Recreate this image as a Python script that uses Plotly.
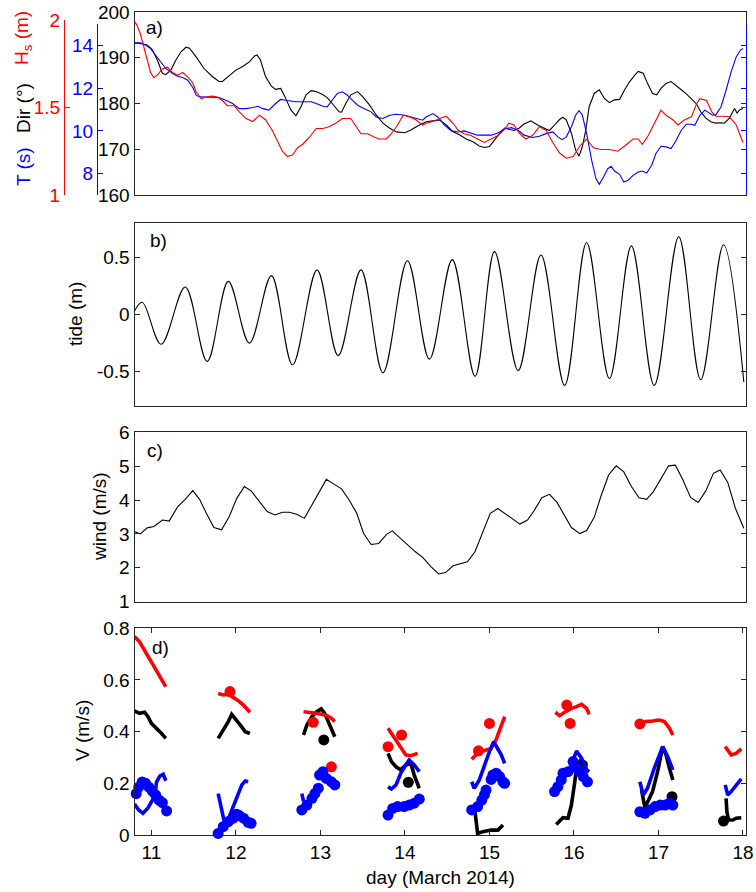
import plotly.graph_objects as go

# ---------------- panel a : wave direction, period, height ----------------
dir_day = [10.79, 10.85, 10.95, 11.01, 11.07, 11.13, 11.17, 11.23, 11.29, 11.35, 11.41, 11.45, 11.53, 11.62, 11.72, 11.80, 11.84, 11.92, 12.00, 12.08,
           12.16, 12.22, 12.25, 12.29, 12.35, 12.42, 12.47, 12.53, 12.58, 12.65, 12.71, 12.77, 12.83, 12.89, 12.95, 13.03, 13.08, 13.14, 13.22, 13.25,
           13.30, 13.36, 13.44, 13.50, 13.58, 13.66, 13.74, 13.82, 13.90, 14.00, 14.07, 14.15, 14.25, 14.33, 14.41, 14.49, 14.57, 14.65, 14.73, 14.80,
           14.88, 14.94, 15.00, 15.06, 15.12, 15.18, 15.23, 15.29, 15.35, 15.41, 15.49, 15.57, 15.65, 15.71, 15.77, 15.83, 15.87, 15.91, 15.97, 16.02,
           16.06, 16.10, 16.14, 16.18, 16.24, 16.30, 16.36, 16.42, 16.48, 16.54, 16.60, 16.66, 16.72, 16.76, 16.82, 16.87, 16.93, 16.98, 17.03, 17.09,
           17.15, 17.21, 17.27, 17.33, 17.39, 17.45, 17.50, 17.56, 17.62, 17.68, 17.74, 17.78, 17.84, 17.90, 17.93, 17.96, 18.00]
dir_deg = [193.3, 193.2, 192.8, 191.8, 189.5, 186.6, 186.3, 187.3, 189.5, 191.3, 192.3, 192.1, 190.2, 187.7, 185.9, 184.8, 184.8, 186.0, 187.3, 188.1,
           189.1, 190.4, 190.6, 189.5, 185.9, 183.8, 183.1, 183.3, 181.5, 178.6, 177.3, 179.3, 181.9, 182.8, 182.6, 181.9, 181.3, 180.0, 178.2, 178.1,
           180.0, 181.9, 182.6, 181.5, 179.7, 177.5, 175.7, 174.6, 173.8, 173.6, 174.2, 175.1, 176.0, 176.2, 176.4, 175.3, 173.8, 173.1, 172.2, 171.7,
           170.7, 170.4, 170.6, 172.0, 173.5, 174.6, 174.4, 174.1, 174.6, 175.5, 176.2, 175.3, 174.6, 174.1, 175.3, 176.5, 177.0, 176.4, 173.5, 169.8,
           168.5, 170.6, 174.2, 179.3, 182.2, 183.0, 181.1, 180.2, 180.8, 180.9, 183.0, 184.8, 186.2, 187.0, 186.6, 184.4, 182.2, 181.9, 183.3, 184.4,
           184.8, 184.0, 183.0, 182.1, 181.1, 179.9, 178.2, 176.8, 176.0, 175.7, 175.8, 175.7, 176.8, 178.9, 177.9, 178.6, 178.9]

per_day = [10.79, 10.87, 10.93, 10.99, 11.05, 11.11, 11.17, 11.25, 11.31, 11.37, 11.43, 11.49, 11.53, 11.57, 11.64, 11.72, 11.80, 11.88, 11.96, 12.04,
           12.12, 12.20, 12.26, 12.32, 12.39, 12.47, 12.53, 12.59, 12.71, 12.83, 12.89, 12.95, 13.03, 13.08, 13.14, 13.20, 13.26, 13.32, 13.38, 13.44,
           13.52, 13.60, 13.66, 13.74, 13.82, 13.90, 14.00, 14.07, 14.15, 14.21, 14.25, 14.33, 14.39, 14.47, 14.55, 14.63, 14.70, 14.78, 14.86, 14.94,
           15.02, 15.10, 15.18, 15.26, 15.34, 15.41, 15.51, 15.59, 15.67, 15.75, 15.81, 15.86, 15.91, 15.97, 16.02, 16.06, 16.10, 16.15, 16.21, 16.26,
           16.30, 16.35, 16.40, 16.44, 16.48, 16.54, 16.59, 16.64, 16.70, 16.76, 16.81, 16.86, 16.92, 16.97, 17.03, 17.09, 17.15, 17.21, 17.27, 17.33,
           17.39, 17.43, 17.49, 17.55, 17.61, 17.64, 17.68, 17.74, 17.80, 17.86, 17.92, 17.97, 18.00]
per_s = [14.09, 14.12, 14.01, 13.85, 13.54, 13.23, 12.92, 12.68, 12.56, 12.50, 12.37, 12.03, 11.67, 11.59, 11.59, 11.59, 11.56, 11.43, 11.28, 11.04,
         11.04, 11.09, 11.15, 11.04, 10.97, 11.28, 11.47, 11.43, 11.36, 11.36, 11.36, 11.28, 11.15, 11.12, 11.43, 11.75, 11.83, 11.67, 11.43, 11.20,
         11.04, 10.89, 10.65, 10.58, 10.73, 10.78, 10.73, 10.65, 10.58, 10.50, 10.65, 10.81, 10.65, 10.26, 10.00, 9.95, 10.00, 9.90, 9.80, 9.80,
         9.80, 9.90, 10.10, 10.15, 10.03, 9.80, 9.69, 9.75, 9.87, 9.95, 9.72, 9.59, 9.72, 10.19, 10.73, 10.94, 10.73, 9.87, 8.62, 7.77,
         7.50, 7.84, 8.23, 8.34, 8.12, 7.97, 7.61, 7.69, 7.92, 8.08, 8.12, 8.03, 8.39, 8.94, 9.28, 9.25, 9.17, 9.56, 10.03, 10.31,
         10.31, 10.26, 10.73, 10.97, 10.81, 10.73, 10.76, 11.12, 11.90, 12.76, 13.46, 13.78, 13.85]

hs_day = [10.79, 10.83, 10.87, 10.91, 10.95, 10.99, 11.03, 11.07, 11.13, 11.19, 11.25, 11.31, 11.37, 11.43, 11.49, 11.53, 11.59, 11.64, 11.72, 11.78,
          11.84, 11.90, 11.98, 12.04, 12.12, 12.20, 12.28, 12.35, 12.43, 12.49, 12.55, 12.61, 12.67, 12.73, 12.79, 12.87, 12.95, 13.03, 13.10, 13.18,
          13.26, 13.36, 13.42, 13.48, 13.56, 13.64, 13.70, 13.78, 13.84, 13.90, 13.98, 14.05, 14.13, 14.21, 14.25, 14.33, 14.41, 14.49, 14.57, 14.63,
          14.70, 14.78, 14.86, 14.94, 15.02, 15.10, 15.18, 15.23, 15.29, 15.35, 15.43, 15.51, 15.59, 15.67, 15.75, 15.83, 15.91, 15.99, 16.07, 16.15,
          16.23, 16.32, 16.42, 16.52, 16.60, 16.70, 16.76, 16.81, 16.88, 16.94, 17.00, 17.03, 17.09, 17.17, 17.23, 17.31, 17.39, 17.45, 17.49, 17.57,
          17.63, 17.68, 17.76, 17.84, 17.92, 18.00]
hs_m = [2.00, 1.97, 1.92, 1.85, 1.78, 1.70, 1.67, 1.685, 1.72, 1.73, 1.70, 1.685, 1.70, 1.675, 1.64, 1.59, 1.55, 1.56, 1.565, 1.56,
        1.54, 1.51, 1.51, 1.475, 1.437, 1.42, 1.456, 1.43, 1.37, 1.31, 1.25, 1.22, 1.23, 1.27, 1.29, 1.33, 1.38, 1.38, 1.39, 1.41,
        1.437, 1.437, 1.39, 1.35, 1.35, 1.33, 1.32, 1.32, 1.35, 1.39, 1.456, 1.447, 1.43, 1.40, 1.41, 1.42, 1.437, 1.45, 1.41, 1.37,
        1.35, 1.34, 1.32, 1.30, 1.32, 1.34, 1.375, 1.41, 1.40, 1.355, 1.32, 1.34, 1.39, 1.37, 1.30, 1.24, 1.21, 1.22, 1.28, 1.32,
        1.27, 1.26, 1.26, 1.25, 1.28, 1.32, 1.32, 1.29, 1.34, 1.40, 1.456, 1.485, 1.456, 1.43, 1.40, 1.43, 1.447, 1.52, 1.55, 1.54,
        1.475, 1.45, 1.45, 1.447, 1.40, 1.30]

# ---------------- panel b : tide (high / low water readings) ----------------
tide_day = [10.78, 10.89, 11.115, 11.40, 11.66, 11.91, 12.16, 12.42, 12.67, 12.96, 13.21, 13.48, 13.74, 14.03, 14.29,
            14.56, 14.83, 15.06, 15.34, 15.61, 15.89, 16.15, 16.42, 16.68, 16.95, 17.24, 17.50, 17.77, 18.01]
tide_m = [0.0, 0.107, -0.26, 0.24, -0.41, 0.29, -0.25, 0.34, -0.44, 0.39, -0.36, 0.39, -0.51, 0.47, -0.39,
          0.48, -0.54, 0.55, -0.49, 0.52, -0.62, 0.63, -0.56, 0.60, -0.62, 0.68, -0.57, 0.61, -0.59]

# ---------------- panel c : wind ----------------
wind_day = [10.77, 10.87, 10.95, 11.03, 11.13, 11.21, 11.31, 11.40, 11.49, 11.57, 11.65, 11.74, 11.83, 11.92, 12.01, 12.10, 12.18, 12.28, 12.37, 12.46,
            12.55, 12.63, 12.72, 12.81, 12.90, 12.99, 13.07, 13.16, 13.25, 13.34, 13.43, 13.51, 13.60, 13.69, 13.78, 13.85, 13.94, 14.04, 14.12, 14.21,
            14.31, 14.40, 14.48, 14.57, 14.65, 14.74, 14.83, 14.92, 15.01, 15.10, 15.19, 15.28, 15.36, 15.45, 15.53, 15.62, 15.71, 15.80, 15.89, 15.97,
            16.07, 16.15, 16.24, 16.32, 16.41, 16.50, 16.59, 16.68, 16.77, 16.86, 16.94, 17.03, 17.12, 17.20, 17.29, 17.38, 17.47, 17.56, 17.65, 17.73,
            17.82, 17.91, 18.01]
wind_ms = [3.10, 3.00, 3.18, 3.22, 3.41, 3.38, 3.80, 4.02, 4.28, 4.02, 3.61, 3.19, 3.12, 3.51, 4.05, 4.40, 4.27, 3.95, 3.66, 3.56,
           3.64, 3.64, 3.58, 3.46, 3.85, 4.25, 4.61, 4.47, 4.33, 4.00, 3.61, 3.02, 2.69, 2.72, 2.98, 3.09, 2.89, 2.64, 2.48, 2.31,
           2.03, 1.82, 1.86, 2.06, 2.11, 2.18, 2.48, 3.07, 3.61, 3.75, 3.59, 3.41, 3.29, 3.41, 3.69, 4.07, 4.17, 3.93, 3.56, 3.19,
           3.01, 3.10, 3.49, 4.12, 4.74, 5.01, 4.83, 4.40, 4.07, 4.02, 4.25, 4.64, 5.01, 5.03, 4.59, 4.08, 3.93, 4.27, 4.79, 4.89,
           4.52, 3.76, 3.17]

# ---------------- panel d : velocities (None separates the daily bursts) ----------------
red_line_day = [10.80, 10.86, 10.94, 11.02, 11.10, 11.17, None,
                11.79, 11.85, 11.91, 11.96, 12.02, 12.09, 12.165, None,
                12.80, 12.88, 12.955, 13.01, 13.07, 13.13, 13.17, None,
                13.80, 13.855, 13.91, 13.97, 14.01, 14.07, 14.15, None,
                14.79, 14.84, 14.90, 15.02, 15.08, 15.18, None,
                15.78, 15.83, 15.89, 15.97, 16.03, 16.09, 16.15, 16.18, None,
                16.78, 16.85, 16.93, 17.01, 17.07, 17.13, 17.17, None,
                17.79, 17.83, 17.86, 17.92, 17.98]
red_line_v = [0.768, 0.748, 0.703, 0.658, 0.613, 0.574, None,
              0.548, 0.542, 0.545, 0.535, 0.522, 0.503, 0.475, None,
              0.477, 0.475, 0.471, 0.467, 0.464, 0.452, 0.439, None,
              0.413, 0.387, 0.355, 0.329, 0.310, 0.307, 0.316, None,
              0.293, 0.310, 0.323, 0.335, 0.370, 0.458, None,
              0.475, 0.462, 0.475, 0.490, 0.497, 0.506, 0.490, 0.467, None,
              0.430, 0.439, 0.441, 0.445, 0.439, 0.413, 0.387, None,
              0.342, 0.323, 0.310, 0.316, 0.333]

black_line_day = [10.80, 10.86, 10.92, 10.96, 11.00, 11.04, 11.08, 11.12, 11.17, None,
                  11.79, 11.85, 11.91, 11.95, 11.99, 12.05, 12.11, 12.165, None,
                  12.80, 12.84, 12.90, 12.955, 13.01, 13.05, 13.11, 13.17, None,
                  13.80, 13.84, 13.895, 13.95, 14.01, 14.07, 14.11, 14.17, None,
                  14.82, 14.84, 14.86, 14.92, 15.02, 15.10, 15.16, None,
                  15.79, 15.83, 15.87, 15.93, 15.97, 16.01, 16.03, 16.07, 16.11, 16.15, 16.18, None,
                  16.80, 16.84, 16.93, 16.99, 17.05, 17.09, 17.13, 17.17, None,
                  17.80, 17.81, 17.83, 17.88, 17.92, 17.98]
black_line_v = [0.480, 0.471, 0.475, 0.458, 0.432, 0.419, 0.410, 0.393, 0.374, None,
                0.374, 0.406, 0.439, 0.467, 0.452, 0.426, 0.400, 0.393, None,
                0.387, 0.426, 0.458, 0.477, 0.488, 0.471, 0.426, 0.380, None,
                0.316, 0.284, 0.264, 0.252, 0.271, 0.277, 0.232, 0.181, None,
                0.116, 0.065, 0.006, 0.013, 0.019, 0.019, 0.039, None,
                0.041, 0.052, 0.067, 0.065, 0.116, 0.206, 0.258, 0.284, 0.271, 0.252, 0.245, None,
                0.174, 0.106, 0.168, 0.245, 0.342, 0.310, 0.258, 0.213, None,
                0.142, 0.090, 0.058, 0.058, 0.065, 0.067]

blue_line_day = [10.80, 10.85, 10.90, 10.96, 11.02, 11.05, 11.06, 11.10, 11.14, 11.17, None,
                 11.79, 11.83, 11.87, 11.92, 11.97, 12.03, 12.07, 12.11, 12.145, None,
                 12.78, 12.80, None,
                 13.80, 13.84, 13.895, 13.95, 14.01, 14.05, 14.11, 14.17, None,
                 14.79, 14.82, 14.88, 14.94, 15.00, 15.05, 15.10, 15.14, 15.18, None,
                 15.81, 15.89, 15.97, 16.03, 16.09, 16.16, None,
                 16.78, 16.82, 16.87, 16.95, 17.05, 17.11, 17.17, None,
                 17.79, 17.82, 17.86, 17.92, 17.98]
blue_line_v = [0.120, 0.097, 0.084, 0.105, 0.140, 0.175, 0.205, 0.228, 0.235, 0.210, None,
               0.160, 0.100, 0.040, 0.070, 0.116, 0.161, 0.194, 0.209, 0.206, None,
               0.160, 0.130, None,
               0.187, 0.178, 0.194, 0.239, 0.271, 0.290, 0.271, 0.245, None,
               0.206, 0.181, 0.213, 0.271, 0.323, 0.361, 0.335, 0.310, 0.277, None,
               0.213, 0.226, 0.271, 0.325, 0.297, 0.245, None,
               0.206, 0.155, 0.181, 0.258, 0.342, 0.303, 0.252, None,
               0.194, 0.155, 0.168, 0.194, 0.217]

red_dot_day = [11.93, 12.915, 13.13, 13.80, 13.96, 14.87, 15.00, 15.915, 15.955, 16.78]
red_dot_v = [0.555, 0.436, 0.264, 0.342, 0.387, 0.326, 0.432, 0.503, 0.432, 0.430]

black_dot_day = [13.04, 14.04, 16.10, 17.16, 17.77]
black_dot_v = [0.368, 0.204, 0.271, 0.148, 0.054]

blue_dot_day = [10.78, 10.82, 10.85, 10.89, 10.93, 10.97, 11.01, 11.05, 11.09, 11.13, 11.18,
                11.79, 11.85, 11.91, 11.97, 12.01, 12.04, 12.09, 12.145, 12.18,
                12.78, 12.84, 12.90, 12.935, 12.975, 12.99, 13.03, 13.07, 13.13, 13.17,
                13.80, 13.855, 13.914, 13.99, 14.05, 14.11, 14.17,
                14.79, 14.86, 14.91, 14.94, 14.96, 15.02, 15.04, 15.08, 15.12, 15.16, 15.18,
                15.77, 15.81, 15.85, 15.87, 15.93, 15.99, 16.03, 16.07, 16.11, 16.16,
                16.78, 16.84, 16.90, 16.96, 17.02, 17.08, 17.13, 17.17]
blue_dot_v = [0.135, 0.160, 0.185, 0.205, 0.200, 0.185, 0.170, 0.155, 0.135, 0.125, 0.093,
              0.006, 0.032, 0.052, 0.065, 0.080, 0.075, 0.065, 0.049, 0.045,
              0.097, 0.116, 0.142, 0.161, 0.181, 0.232, 0.245, 0.219, 0.206, 0.194,
              0.077, 0.103, 0.110, 0.110, 0.116, 0.123, 0.139,
              0.097, 0.110, 0.135, 0.155, 0.174, 0.215, 0.232, 0.239, 0.226, 0.206, 0.200,
              0.168, 0.187, 0.213, 0.239, 0.245, 0.284, 0.260, 0.245, 0.226, 0.206,
              0.090, 0.084, 0.097, 0.110, 0.116, 0.116, 0.123, 0.116]

day_ticks = [11, 12, 13, 14, 15, 16, 17, 18]

for a, b in [(dir_day, dir_deg), (per_day, per_s), (hs_day, hs_m), (tide_day, tide_m), (wind_day, wind_ms),
             (red_line_day, red_line_v), (black_line_day, black_line_v), (blue_line_day, blue_line_v),
             (red_dot_day, red_dot_v), (black_dot_day, black_dot_v), (blue_dot_day, blue_dot_v)]:
    assert len(a) == len(b), (len(a), len(b))

# ---------------- figure ----------------
W, H = 756, 892
FONT = "Liberation Sans, Arial, Helvetica, sans-serif"
RED, BLUE, BLACK = "#ff0000", "#0000ff", "#000000"
FRAME = "#262626"


def fx(p):
    return p / W


def fy(p):
    return 1 - p / H


XD = [fx(134.5), fx(745.5)]
XR = [10.8, 18.03]
TF = dict(family=FONT, size=19, color=BLACK)
A_BOT = fy(195)

fig = go.Figure()

# panel a  (transparent copies only give the right-hand blue/red axes a subplot)
fig.add_trace(go.Scatter(x=per_day, y=per_s, xaxis="x", yaxis="y7", mode="lines",
                         line=dict(color="rgba(0,0,0,0)", width=0.1), hoverinfo="skip"))
fig.add_trace(go.Scatter(x=hs_day, y=hs_m, xaxis="x", yaxis="y8", mode="lines",
                         line=dict(color="rgba(0,0,0,0)", width=0.1), hoverinfo="skip"))
fig.add_trace(go.Scatter(x=per_day, y=per_s, xaxis="x", yaxis="y2", mode="lines", line=dict(color=BLUE, width=1.1)))
fig.add_trace(go.Scatter(x=hs_day, y=hs_m, xaxis="x", yaxis="y3", mode="lines", line=dict(color=RED, width=1.1)))
fig.add_trace(go.Scatter(x=dir_day, y=dir_deg, xaxis="x", yaxis="y", mode="lines", line=dict(color=BLACK, width=1.1)))
# panel b
fig.add_trace(go.Scatter(x=tide_day, y=tide_m, xaxis="x2", yaxis="y4", mode="lines",
                         line=dict(color=BLACK, width=1.1, shape="spline", smoothing=1.0)))
# panel c
fig.add_trace(go.Scatter(x=wind_day, y=wind_ms, xaxis="x3", yaxis="y5", mode="lines", line=dict(color=BLACK, width=1.1)))
# panel d
LW = 3.6
MS = 11
fig.add_trace(go.Scatter(x=black_line_day, y=black_line_v, xaxis="x4", yaxis="y6", mode="lines",
                         line=dict(color=BLACK, width=LW), connectgaps=False))
fig.add_trace(go.Scatter(x=black_dot_day, y=black_dot_v, xaxis="x4", yaxis="y6", mode="markers",
                         marker=dict(color=BLACK, size=MS), cliponaxis=False))
fig.add_trace(go.Scatter(x=red_line_day, y=red_line_v, xaxis="x4", yaxis="y6", mode="lines",
                         line=dict(color=RED, width=LW), connectgaps=False))
fig.add_trace(go.Scatter(x=red_dot_day, y=red_dot_v, xaxis="x4", yaxis="y6", mode="markers",
                         marker=dict(color=RED, size=MS), cliponaxis=False))
fig.add_trace(go.Scatter(x=blue_dot_day, y=blue_dot_v, xaxis="x4", yaxis="y6", mode="markers",
                         marker=dict(color=BLUE, size=MS), cliponaxis=False))
fig.add_trace(go.Scatter(x=blue_line_day, y=blue_line_v, xaxis="x4", yaxis="y6", mode="lines",
                         line=dict(color=BLUE, width=LW), connectgaps=False))

base = dict(showgrid=False, zeroline=False, showline=True, linewidth=1, linecolor=FRAME,
            ticks="inside", ticklen=5, tickwidth=1, tickcolor=FRAME, tickfont=TF, automargin=False)
xbase = dict(base, domain=XD, range=XR, tickvals=day_ticks)

layout = dict(
    width=W, height=H, autosize=False, showlegend=False, hovermode=False,
    margin=dict(l=0, r=0, t=0, b=0, pad=0, autoexpand=False),
    paper_bgcolor="white", plot_bgcolor="rgba(0,0,0,0)",
    font=dict(family=FONT, size=19, color=BLACK),
    # panel a
    xaxis=dict(xbase, anchor="y", showticklabels=False, ticks="", mirror=True),
    yaxis=dict(base, domain=[A_BOT, fy(12)], range=[160, 200], tickvals=[160, 170, 180, 190, 200],
               anchor="x", mirror="ticks"),
    yaxis2=dict(base, domain=[A_BOT, fy(24)], range=[7, 15], tickvals=[8, 10, 12, 14],
                anchor="free", position=fx(97), side="left", linecolor=BLUE, tickcolor=BLUE,
                tickfont=dict(TF, color=BLUE)),
    yaxis3=dict(base, domain=[A_BOT, fy(20)], range=[1, 2], tickvals=[1, 1.5, 2], ticktext=["1", "1.5", "2"],
                anchor="free", position=fx(64), side="left", linecolor=RED, tickcolor=RED,
                tickfont=dict(TF, color=RED)),
    yaxis7=dict(base, domain=[A_BOT, fy(24)], range=[7, 15], tickvals=[8, 10, 12, 14],
                anchor="x", side="right", linecolor=BLUE, tickcolor=BLUE, showticklabels=False),
    yaxis8=dict(base, domain=[A_BOT, fy(20)], range=[1, 2], tickvals=[1.5],
                anchor="x", side="right", showline=False, tickcolor=RED, showticklabels=False),
    # panel b
    xaxis2=dict(xbase, anchor="y4", showticklabels=False, ticks="", mirror=True),
    yaxis4=dict(base, domain=[fy(406), fy(223)], range=[-0.8, 0.8], tickvals=[-0.5, 0, 0.5],
                ticktext=["-0.5", "0", "0.5"], anchor="x2", mirror="ticks"),
    # panel c
    xaxis3=dict(xbase, anchor="y5", showticklabels=False, ticks="", mirror=True),
    yaxis5=dict(base, domain=[fy(601.7), fy(432.3)], range=[1, 6], tickvals=[1, 2, 3, 4, 5, 6],
                anchor="x3", mirror="ticks"),
    # panel d
    xaxis4=dict(xbase, anchor="y6", mirror="ticks"),
    yaxis6=dict(base, domain=[fy(835), fy(628.3)], range=[0, 0.8], tickvals=[0, 0.2, 0.4, 0.6, 0.8],
                ticktext=["0", "0.2", "0.4", "0.6", "0.8"], anchor="x4", mirror="ticks"),
)
fig.update_layout(**layout)


def ann(text, px, py, color=BLACK, angle=0, size=19, xanchor="center"):
    fig.add_annotation(text=text, x=fx(px), y=fy(py), xref="paper", yref="paper", showarrow=False,
                       textangle=angle, xanchor=xanchor, yanchor="middle",
                       font=dict(family=FONT, size=size, color=color))


ann("a)", 144, 28, xanchor="left")
ann("b)", 148, 241, xanchor="left")
ann("c)", 145, 450, xanchor="left")
ann("d)", 150, 647, xanchor="left")
ann("H<sub>s</sub> (m)", 23, 38, color=RED, angle=-90)
ann("Dir (°)", 23, 108, color=BLACK, angle=-90)
ann("T (s)", 23, 167, color=BLUE, angle=-90)
ann("tide (m)", 75, 314, angle=-90)
ann("wind (m/s)", 99, 517, angle=-90)
ann("V (m/s)", 82, 731, angle=-90)
ann("day (March 2014)", 440, 877)

# let the 756x892 figure fill the window exactly (no default body margin), no mode bar
fig.write_html("out.html",
               config={"displayModeBar": False, "staticPlot": True},
               post_script="document.body.style.margin='0';document.body.style.overflow='hidden';")
